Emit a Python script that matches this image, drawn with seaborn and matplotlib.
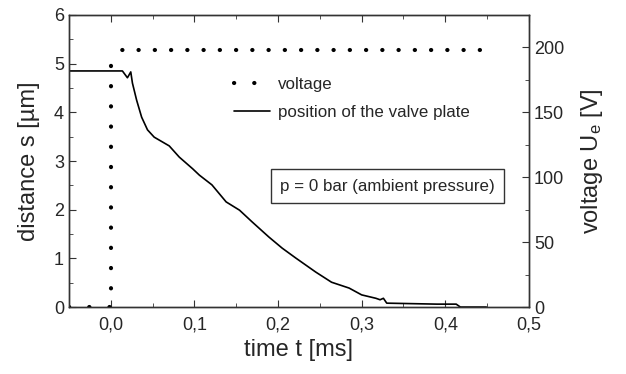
import numpy as np
import pandas as pd
import seaborn as sns
import matplotlib.pyplot as plt
from matplotlib.ticker import MultipleLocator, FuncFormatter

# valve plate position
time_pos = [-0.05, 0.0, 0.014, 0.020, 0.024, 0.026, 0.031, 0.037, 0.044, 0.052, 0.058,
            0.070, 0.082, 0.098, 0.106, 0.121, 0.138, 0.154, 0.169, 0.189, 0.205,
            0.221, 0.245, 0.264, 0.285, 0.300, 0.317, 0.322, 0.326, 0.330, 0.360,
            0.390, 0.413, 0.418, 0.449]
distance = [4.85, 4.85, 4.85, 4.71, 4.83, 4.60, 4.25, 3.90, 3.64, 3.49, 3.43,
            3.31, 3.08, 2.84, 2.71, 2.51, 2.16, 1.99, 1.75, 1.44, 1.21,
            1.01, 0.72, 0.51, 0.39, 0.25, 0.18, 0.15, 0.18, 0.08, 0.07,
            0.06, 0.06, 0.0, 0.0]

# excitation voltage step
time_volt = [-0.05, 0.0, 0.0, 0.45]
voltage = [0, 0, 198, 198]

sns.set_style("ticks")
plt.rcParams['font.family'] = ['Liberation Sans', 'DejaVu Sans']
plt.rcParams['mathtext.fontset'] = 'custom'
plt.rcParams['mathtext.rm'] = 'Liberation Sans'
plt.rcParams['mathtext.it'] = 'Liberation Sans'

pos = pd.DataFrame({'t': time_pos, 's': distance})
volt = pd.DataFrame({'t': time_volt, 'U': voltage})

fig = plt.figure(figsize=(6.26, 3.74), dpi=100)
ax = fig.add_axes([0.110, 0.179, 0.735, 0.781])
ax2 = ax.twinx()

sns.lineplot(data=pos, x='t', y='s', ax=ax, color='black', lw=1.2,
             sort=False, estimator=None, errorbar=None,
             label='position of the valve plate', legend=False)
# the dotted trace is denser on the plateau than on the rising edge
sns.lineplot(data=volt.iloc[:3], x='t', y='U', ax=ax2, color='black', lw=3.0,
             sort=False, estimator=None, errorbar=None,
             linestyle=(0, (0.05, 4.8)), dash_capstyle='round',
             label='voltage', legend=False)
sns.lineplot(data=volt.iloc[2:], x='t', y='U', ax=ax2, color='black', lw=3.0,
             sort=False, estimator=None, errorbar=None,
             linestyle=(1.2, (0.05, 3.85)), dash_capstyle='round', legend=False)

ax.set_xlim(-0.05, 0.5)
ax.set_ylim(0, 6)
ax2.set_ylim(0, 225)

ax.xaxis.set_major_locator(MultipleLocator(0.1))
ax.xaxis.set_minor_locator(MultipleLocator(0.05))
ax.yaxis.set_major_locator(MultipleLocator(1))
ax.yaxis.set_minor_locator(MultipleLocator(0.5))
ax2.yaxis.set_major_locator(MultipleLocator(50))
ax2.yaxis.set_minor_locator(MultipleLocator(25))
ax.xaxis.set_major_formatter(FuncFormatter(lambda v, p: f"{v:.1f}".replace('.', ',')))

for a in (ax, ax2):
    for sp in a.spines.values():
        sp.set_color('#333333')
        sp.set_linewidth(1.0)
ax.tick_params(axis='x', which='both', direction='in', top=True, labelsize=13, color='#333333')
ax.tick_params(axis='x', which='major', length=5, pad=7)
ax.tick_params(axis='x', which='minor', length=3)
ax.tick_params(axis='y', which='both', direction='in', right=False, labelsize=13, color='#333333')
ax.tick_params(axis='y', which='major', length=5)
ax.tick_params(axis='y', which='minor', length=3)
ax2.tick_params(axis='y', which='both', direction='in', labelsize=13, color='#333333')
ax2.tick_params(axis='y', which='major', length=5)
ax2.tick_params(axis='y', which='minor', length=3)

ax.set_xlabel('time t [ms]', fontsize=17, labelpad=4)
ax.set_ylabel('distance s [µm]', fontsize=17, labelpad=10)
ax2.set_ylabel('voltage U$_\\mathrm{e}$ [V]', fontsize=17, labelpad=11)

h1, l1 = ax2.get_legend_handles_labels()
h2, l2 = ax.get_legend_handles_labels()
ax2.legend(h1[:1] + h2, l1[:1] + l2, loc='upper left', bbox_to_anchor=(0.325, 0.84),
           frameon=False, fontsize=12.2, handlelength=2.15, handletextpad=0.45,
           labelspacing=0.75)

ax2.text(0.692, 0.414, 'p = 0 bar (ambient pressure)', transform=ax2.transAxes,
         fontsize=12.2, ha='center', va='center',
         bbox=dict(boxstyle='square,pad=0.55', fc='white', ec='#333333', lw=1))

fig.savefig('out.png', dpi=100)
